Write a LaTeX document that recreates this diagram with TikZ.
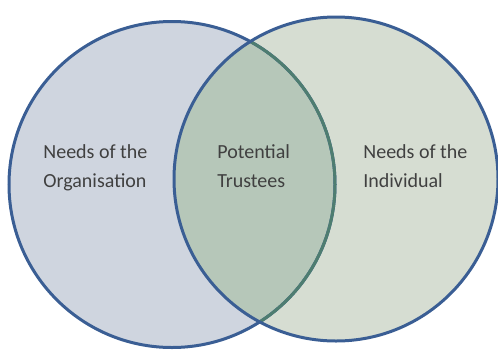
\documentclass[tikz,border=0pt]{standalone}
\usepackage{fontspec}
\setmainfont{Carlito}
\definecolor{orgFill}{RGB}{207,213,223}
\definecolor{indFill}{RGB}{214,221,210}
\definecolor{lensFill}{RGB}{182,199,185}
\definecolor{rimBlue}{RGB}{58,94,148}
\definecolor{rimGreen}{RGB}{78,125,112}
\definecolor{labelGrey}{RGB}{64,64,64}
\tikzset{every picture/.style={line width=0.75pt},
  rim/.style={line width=3pt},
  label text/.style={anchor=base west,inner sep=0pt,align=left,text=labelGrey,
    font=\fontsize{20}{28.5}\selectfont}}

\begin{document}
\begin{tikzpicture}[x=1pt,y=1pt,yscale=-1,xscale=1]
\useasboundingbox (0,0) rectangle (498,349);

%Shape: Circle [organisation]
\fill [orgFill] (172,184.5) circle (163);
%Shape: Circle [individual]
\fill [indFill] (336,179) circle (162);
%Shape: overlap
\begin{scope}
\clip (172,184.5) circle (163);
\fill [lensFill] (336,179) circle (162);
\end{scope}

%Outlines
\draw [rim, rimBlue] (172,184.5) circle (163);
\begin{scope}
\clip (336,179) circle (162);
\draw [rim, rimGreen] (172,184.5) circle (163);
\end{scope}
\draw [rim, rimBlue] (336,179) circle (162);

% Text Node
\draw (43,187) node [label text] (orgText) {Needs of the\\Organisation};
% Text Node
\draw (217,187) node [label text] (trusteeText) {Potential\\Trustees};
% Text Node
\draw (363,187) node [label text] (indText) {Needs of the\\Individual};

\end{tikzpicture}
\end{document}
